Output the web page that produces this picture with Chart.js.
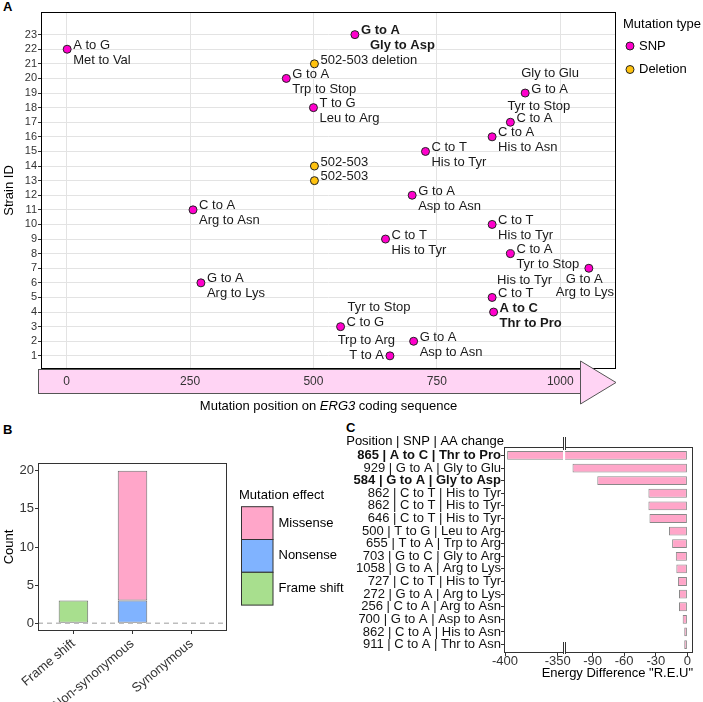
<!DOCTYPE html>
<html>
<head>
<meta charset="utf-8">
<script src="https://cdn.jsdelivr.net/npm/chart.js@4.4.1/dist/chart.umd.min.js"></script>
<style>
	body { margin: 0; background: #fff; width: 703px; height: 702px; position: relative; overflow: hidden; font-family: "Liberation Sans", Arial, sans-serif; }
	canvas { position: absolute; }
	.tag { position: absolute; font-weight: bold; font-size: 13px; line-height: 14px; color: #000; }
</style>
</head>
<body>
<div class="tag" style="left:3px;top:0px">A</div>
<div class="tag" style="left:3px;top:423px">B</div>
<div class="tag" style="left:346px;top:421px">C</div>
<canvas id="chartA" width="703" height="420" style="left:0;top:0"></canvas>
<canvas id="chartB" width="346" height="272" style="left:0;top:430px"></canvas>
<canvas id="chartC" width="363" height="272" style="left:340px;top:430px"></canvas>
<script>
Chart.defaults.font.family = '"Liberation Sans", Arial, sans-serif';
Chart.defaults.color = '#333';
Chart.defaults.animation = false;

//#region data

//panel A - one mutation per strain
const strainIds = [1, 2, 3, 4, 5, 6, 7, 8, 9, 10, 11, 12, 13, 14, 15, 16, 17, 18, 19, 20, 21, 22, 23];
const mutPositions = [655, 703, 555, 865, 862, 272, 1058, 899, 646, 862, 256, 700, 502, 502, 727, 862, 899, 500, 929, 445, 502, 1, 584];
const mutTypes = ['SNP', 'SNP', 'SNP', 'SNP', 'SNP', 'SNP', 'SNP', 'SNP', 'SNP', 'SNP', 'SNP', 'SNP', 'Deletion', 'Deletion',
	'SNP', 'SNP', 'SNP', 'SNP', 'SNP', 'SNP', 'Deletion', 'SNP', 'SNP'];
const ntChanges = ['T to A', 'G to A', 'C to G', 'A to C', 'C to T', 'G to A', 'G to A', 'C to A', 'C to T', 'C to T', 'C to A', 'G to A',
	'502-503', '502-503', 'C to T', 'C to A', 'C to A', 'T to G', 'G to A', 'G to A', '502-503 deletion', 'A to G', 'G to A'];
const aaChanges = ['Trp to Arg', 'Asp to Asn', 'Tyr to Stop', 'Thr to Pro', 'His to Tyr', 'Arg to Lys', 'Arg to Lys', 'Tyr to Stop',
	'His to Tyr', 'His to Tyr', 'Arg to Asn', 'Asp to Asn', '', '', 'His to Tyr', 'His to Asn', 'Tyr to Stop', 'Leu to Arg',
	'Gly to Glu', 'Trp to Stop', '', 'Met to Val', 'Gly to Asp'];
const boldStrains = [4, 23];
const typeNames = ['SNP', 'Deletion'];
const posTicks = [0, 250, 500, 750, 1000];

//panel B
const effectCategories = ['Frame shift', 'Non-synonymous', 'Synonymous'];
const frameShiftCounts = [3, 0, 0];
const nonsenseCounts = [0, 3, 0];
const missenseCounts = [0, 17, 0];
const countTicks = [0, 5, 10, 15, 20];

//panel C
const energyLabels = ['865 | A to C | Thr to Pro', '929 | G to A | Gly to Glu', '584 | G to A | Gly to Asp',
	'862 | C to T | His to Tyr', '862 | C to T | His to Tyr', '646 | C to T | His to Tyr', '500 | T to G | Leu to Arg',
	'655 | T to A | Trp to Arg', '703 | G to C | Gly to Arg', '1058 | G to A | Arg to Lys', '727 | C to T | His to Tyr',
	'272 | G to A | Arg to Lys', '256 | C to A | Arg to Asn', '700 | G to A | Asp to Asn', '862 | C to A | His to Asn',
	'911 | C to A | Thr to Asn'];
const energyDiff = [-398, -109, -85.5, -37, -37, -36, -17.5, -14.5, -11, -10.5, -9, -8, -8, -4.5, -3, -3];
const energyTicks = [-400, -350, -90, -60, -30, 0];
const boldRows = [0, 2];

//#endregion

//#region styles
const fontStr = (size, weight, style) => (style || 'normal') + ' ' + (weight || 'normal') + ' ' + size + 'px "Liberation Sans", Arial, sans-serif';
const typeColors = ['#FF00CC', '#FFC20E'];
const missenseColor = '#FFA6C9';
const nonsenseColor = '#80B3FF';
const frameShiftColor = '#A8DF8E';
const barEdge = '#6e6e6e';
const gridColor = '#e3e3e3';

//where each label line sits relative to its point (px); most labels use the default
const defaultNudge = { l1: [6, -4], l2: [6, 11] };
const labelNudge = {
	1: { l1: [-6, 0, 'right'], l2: [5, -15, 'right'] },
	3: { l2: [7, -19] },
	5: { l2: [5, -17] },
	7: { l1: [-23, 11], l2: [-33, 24] },
	17: { l2: [-3, -16] },
	19: { l2: [-4, -20] },
	21: { l1: [6, -3] },
	23: { l2: [15, 11] },
};
//#endregion

//#region panel A
const pointSets = typeNames.map(() => []);
strainIds.forEach((id, i) => {
	pointSets[typeNames.indexOf(mutTypes[i])].push({ x: mutPositions[i], y: id, id: id, nt: ntChanges[i], aa: aaChanges[i] });
});

const pointLabels = {
	id: 'pointLabels',
	afterDatasetsDraw(chart) {
		const ctx = chart.ctx;
		ctx.save();
		ctx.fillStyle = '#1a1a1a';
		ctx.textBaseline = 'middle';
		chart.data.datasets.forEach((ds, di) => {
			const meta = chart.getDatasetMeta(di);
			ds.data.forEach((d, j) => {
				const el = meta.data[j];
				const nudge = Object.assign({}, defaultNudge, labelNudge[d.id] || {});
				ctx.font = fontStr(13, boldStrains.includes(d.id) ? 'bold' : 'normal');
				[[d.nt, nudge.l1], [d.aa, nudge.l2]].forEach(([txt, n]) => {
					if (!txt) return;
					ctx.textAlign = n[2] || 'left';
					ctx.fillText(txt, el.x + n[0], el.y + n[1]);
				});
			});
		});
		ctx.restore();
	}
};

//pink gene arrow under the plot, frame, legend and the x title with italic gene name
const decorA = {
	id: 'decorA',
	beforeDraw(chart) {
		const { ctx, chartArea: a } = chart;
		ctx.save();
		ctx.fillStyle = '#FFD4F4';
		ctx.strokeStyle = '#555';
		ctx.lineWidth = 1;
		ctx.fillRect(a.left - 3, a.bottom, a.right - 36 - (a.left - 3), 24);
		ctx.strokeRect(a.left - 3 + 0.5, a.bottom + 0.5, a.right - 36 - (a.left - 3), 24);
		ctx.restore();
	},
	afterDraw(chart) {
		const { ctx, chartArea: a } = chart;
		ctx.save();
		ctx.strokeStyle = '#000';
		ctx.lineWidth = 1;
		ctx.strokeRect(a.left + 0.5, a.top + 0.5, a.width - 1, a.height - 1);

		//arrow head
		const bx = a.right - 36;
		ctx.beginPath();
		ctx.moveTo(bx + 0.5, a.bottom - 8);
		ctx.lineTo(a.right, a.bottom + 13.5);
		ctx.lineTo(bx + 0.5, a.bottom + 35);
		ctx.closePath();
		ctx.fillStyle = '#FFD4F4';
		ctx.fill();
		ctx.strokeStyle = '#555';
		ctx.stroke();

		//x title
		const parts = [['Mutation position on ', 'normal'], ['ERG3', 'italic'], [' coding sequence', 'normal']];
		let total = 0;
		parts.forEach(p => { ctx.font = fontStr(13, 'normal', p[1]); total += ctx.measureText(p[0]).width; });
		let x = (a.left + a.right) / 2 - total / 2;
		ctx.fillStyle = '#000';
		ctx.textBaseline = 'middle';
		ctx.textAlign = 'left';
		parts.forEach(p => {
			ctx.font = fontStr(13, 'normal', p[1]);
			ctx.fillText(p[0], x, 406);
			x += ctx.measureText(p[0]).width;
		});

		//legend
		const lx = a.right + 7;
		ctx.font = fontStr(13);
		ctx.fillText('Mutation type', lx, 24);
		chart.data.datasets.forEach((ds, i) => {
			const y = 46 + i * 23.5;
			ctx.beginPath();
			ctx.arc(lx + 7, y, 4, 0, Math.PI * 2);
			ctx.fillStyle = ds.backgroundColor;
			ctx.fill();
			ctx.strokeStyle = '#222';
			ctx.stroke();
			ctx.fillStyle = '#000';
			ctx.fillText(ds.label, lx + 16, y);
		});
		ctx.restore();
	}
};

const chartA = new Chart(document.getElementById('chartA'), {
	type: 'scatter',
	data: {
		datasets: typeNames.map((name, i) => ({
			label: name,
			data: pointSets[i],
			backgroundColor: typeColors[i],
			borderColor: '#222',
			borderWidth: 1,
			pointRadius: 4,
		}))
	},
	options: {
		responsive: false,
		layout: { padding: { left: 0, top: 12, right: 87, bottom: 0 } },
		plugins: { legend: { display: false }, tooltip: { enabled: false } },
		scales: {
			x: {
				type: 'linear', min: -52, max: 1113,
				afterBuildTicks: s => { s.ticks = posTicks.map(v => ({ value: v })); },
				afterFit: s => { s.height = 51; },
				grid: { color: gridColor, drawTicks: false },
				border: { display: false },
				ticks: { font: { size: 12 }, color: '#333', padding: 5.5, callback: (v, i) => String(posTicks[i]) },
			},
			y: {
				type: 'linear', min: 0.1, max: 24.55,
				afterBuildTicks: s => { s.ticks = strainIds.map(v => ({ value: v })); },
				afterFit: s => { s.width = 41; },
				grid: { color: gridColor, tickColor: '#333', tickLength: 3 },
				border: { display: false },
				ticks: { font: { size: 11 }, color: '#333', padding: 1, autoSkip: false },
				title: { display: true, text: 'Strain ID', font: { size: 13 }, color: '#000', padding: { top: 2, bottom: 0 } },
			}
		}
	},
	plugins: [pointLabels, decorA]
});
//#endregion

//#region panel B
const effectSeries = [
	{ label: 'Frame shift', counts: frameShiftCounts, color: frameShiftColor },
	{ label: 'Nonsense', counts: nonsenseCounts, color: nonsenseColor },
	{ label: 'Missense', counts: missenseCounts, color: missenseColor },
];

const decorB = {
	id: 'decorB',
	afterDatasetsDraw(chart) {
		const { ctx, chartArea: a } = chart;
		const y0 = chart.scales.y.getPixelForValue(0);
		ctx.save();
		ctx.strokeStyle = '#bdbdbd';
		ctx.lineWidth = 1.5;
		ctx.setLineDash([5, 4]);
		ctx.beginPath();
		ctx.moveTo(a.left, y0);
		ctx.lineTo(a.right, y0);
		ctx.stroke();
		ctx.restore();
	},
	afterDraw(chart) {
		const { ctx, chartArea: a } = chart;
		ctx.save();
		ctx.strokeStyle = '#333';
		ctx.lineWidth = 1;
		ctx.strokeRect(a.left + 0.5, a.top + 0.5, a.width - 1, a.height - 1);

		//legend, top entry is the last stacked series
		const lx = a.right + 12;
		ctx.fillStyle = '#000';
		ctx.font = fontStr(13);
		ctx.textBaseline = 'middle';
		ctx.fillText('Mutation effect', lx, 65);
		chart.data.datasets.slice().reverse().forEach((ds, i) => {
			const y = 76.7 + i * 32.8;
			ctx.fillStyle = ds.backgroundColor;
			ctx.fillRect(lx + 2.5, y, 31.5, 32.8);
			ctx.strokeStyle = '#333';
			ctx.strokeRect(lx + 2.5, y, 31.5, 32.8);
			ctx.fillStyle = '#000';
			ctx.fillText(ds.label, lx + 39.5, y + 16.4);
		});
		ctx.restore();
	}
};

const chartB = new Chart(document.getElementById('chartB'), {
	type: 'bar',
	data: {
		datasets: effectSeries.map(s => ({
			label: s.label,
			data: s.counts.map((c, i) => ({ x: i + 1, y: c || null })),
			backgroundColor: s.color,
			borderColor: barEdge,
			borderWidth: 1,
			borderSkipped: false,
			categoryPercentage: 1,
			barPercentage: 0.5,
		}))
	},
	options: {
		responsive: false,
		layout: { padding: { left: 0, top: 33, right: 119, bottom: 0 } },
		plugins: { legend: { display: false }, tooltip: { enabled: false } },
		scales: {
			x: {
				type: 'linear', min: 0.4, max: 3.6, stacked: true, offset: false,
				afterBuildTicks: s => { s.ticks = effectCategories.map((c, i) => ({ value: i + 1 })); },
				afterFit: s => { s.height = 71; },
				grid: { drawOnChartArea: false, offset: false, tickColor: '#333', tickLength: 3 },
				border: { display: false },
				ticks: {
					font: { size: 13 }, color: '#333', padding: 2, minRotation: 40, maxRotation: 40, autoSkip: false,
					callback: (v, i) => effectCategories[i]
				},
			},
			y: {
				type: 'linear', min: -1, max: 21, stacked: true,
				afterBuildTicks: s => { s.ticks = countTicks.map(v => ({ value: v })); },
				afterFit: s => { s.width = 38; },
				grid: { drawOnChartArea: false, tickColor: '#333', tickLength: 3 },
				border: { display: false },
				ticks: { font: { size: 13 }, color: '#333', padding: 1 },
				title: { display: true, text: 'Count', font: { size: 13 }, color: '#000', padding: { top: 2, bottom: 0 } },
			}
		}
	},
	plugins: [decorB]
});
//#endregion

//#region panel C
//broken x axis: the -400..-350 piece is slid right so it sits next to -120..0
const breakShift = 227;
const squash = v => (v < -200 ? v + breakShift : v);
const breakEdges = [-345.5, -116];

const decorC = {
	id: 'decorC',
	afterDraw(chart) {
		const { ctx, chartArea: a } = chart;
		const xs = chart.scales.x;
		const b0 = xs.getPixelForValue(squash(breakEdges[0]));
		const b1 = xs.getPixelForValue(squash(breakEdges[1]));
		ctx.save();
		ctx.strokeStyle = '#333';
		ctx.lineWidth = 1;
		ctx.strokeRect(a.left + 0.5, a.top + 0.5, a.width - 1, a.height - 1);
		//gap
		ctx.fillStyle = '#fff';
		ctx.fillRect(b0 + 0.5, a.top - 1, b1 - b0 - 0.5, a.height + 2);
		ctx.beginPath();
		[b0, b1].forEach(bx => {
			const x = Math.round(bx) + 0.5;
			ctx.moveTo(x, a.top - 10);
			ctx.lineTo(x, a.top + 3);
			ctx.moveTo(x, a.bottom - 11);
			ctx.lineTo(x, a.bottom + 1);
		});
		ctx.stroke();
		//header above the row labels
		ctx.fillStyle = '#000';
		ctx.font = fontStr(13);
		ctx.textAlign = 'right';
		ctx.textBaseline = 'middle';
		ctx.fillText('Position | SNP | AA change', a.left, 11);
		ctx.restore();
	}
};

const chartC = new Chart(document.getElementById('chartC'), {
	type: 'bar',
	data: {
		datasets: [{
			label: 'Energy difference',
			data: energyDiff.map((v, i) => ({ x: squash(v), y: i })),
			backgroundColor: missenseColor,
			borderColor: '#888',
			borderWidth: 1,
			borderSkipped: false,
			categoryPercentage: 1,
			barPercentage: 0.7,
		}]
	},
	options: {
		responsive: false,
		indexAxis: 'y',
		layout: { padding: { left: 0, top: 17, right: 10, bottom: 0 } },
		plugins: { legend: { display: false }, tooltip: { enabled: false } },
		scales: {
			x: {
				type: 'linear', min: -174, max: 5.3,
				afterBuildTicks: s => { s.ticks = energyTicks.map(v => ({ value: squash(v) })); },
				afterFit: s => { s.height = 49; },
				grid: { drawOnChartArea: false, tickColor: '#333', tickLength: 3 },
				border: { display: false },
				ticks: { font: { size: 13 }, color: '#333', padding: -2, autoSkip: false, callback: (v, i) => energyTicks[i] },
				title: { display: true, text: 'Energy Difference "R.E.U"', align: 'end', font: { size: 13 }, color: '#000', padding: { top: 0, bottom: 21 } },
			},
			y: {
				type: 'linear', min: -0.67, max: 15.67, reverse: true, offset: false,
				afterBuildTicks: s => { s.ticks = energyLabels.map((l, i) => ({ value: i })); },
				afterFit: s => { s.width = 164; },
				grid: { drawOnChartArea: false, offset: false, tickColor: '#333', tickLength: 3 },
				border: { display: false },
				ticks: {
					color: '#111', padding: 0, autoSkip: false,
					font: c => ({ size: 13, family: '"Liberation Sans", Arial, sans-serif', weight: boldRows.includes(c.index) ? 'bold' : 'normal' }),
					callback: (v, i) => energyLabels[i]
				},
			}
		}
	},
	plugins: [decorC]
});
//#endregion
</script>
</body>
</html>
